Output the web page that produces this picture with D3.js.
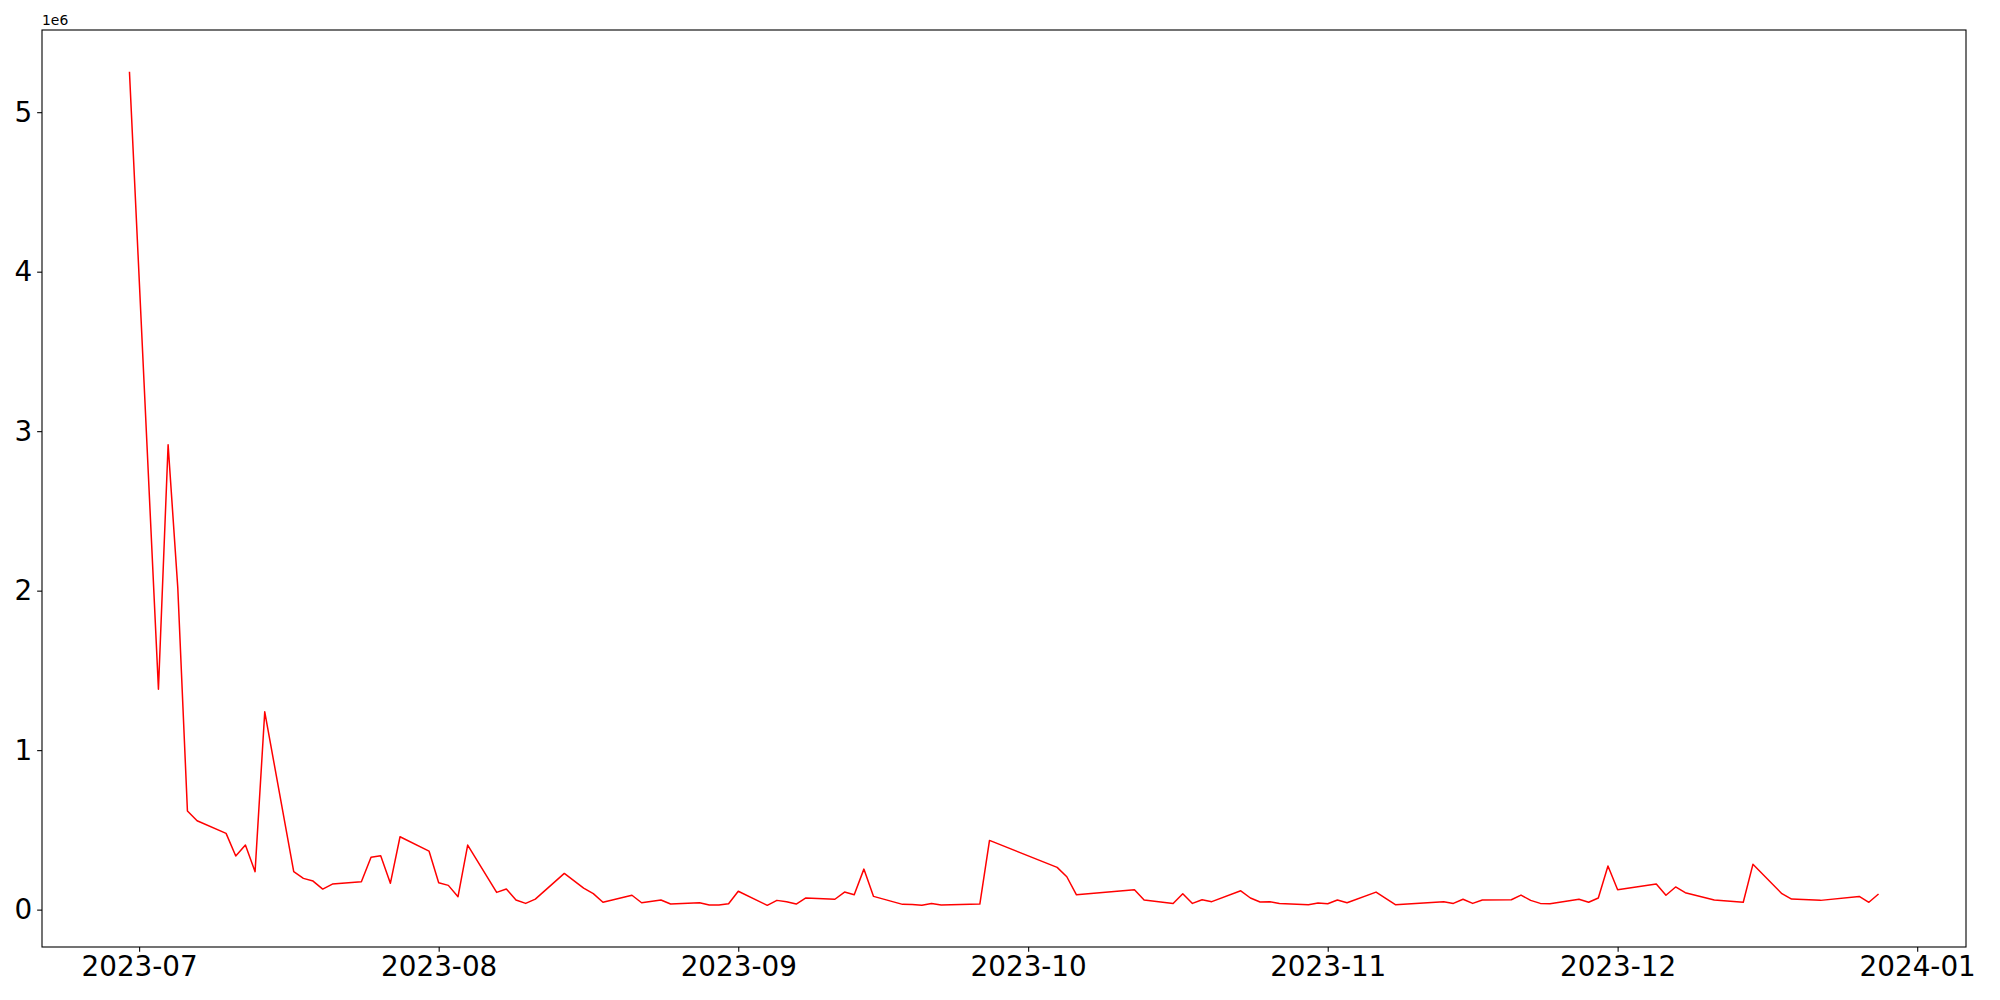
<!DOCTYPE html>
<html>
<head>
<meta charset="utf-8">
<script src="https://cdn.jsdelivr.net/npm/d3@7"></script>
<style>
  body { margin: 0; background: #fff; }
  text { font-family: "DejaVu Sans", sans-serif; }
</style>
</head>
<body>
<script>
// daily values (only the days present in the series)
var dates = [
  "2023-06-30","2023-07-03","2023-07-04","2023-07-05","2023-07-06","2023-07-07","2023-07-10","2023-07-11",
  "2023-07-12","2023-07-13","2023-07-14","2023-07-17","2023-07-18","2023-07-19","2023-07-20","2023-07-21",
  "2023-07-24","2023-07-25","2023-07-26","2023-07-27","2023-07-28","2023-07-31",
  "2023-08-01","2023-08-02","2023-08-03","2023-08-04","2023-08-07","2023-08-08","2023-08-09","2023-08-10",
  "2023-08-11","2023-08-14","2023-08-16","2023-08-17","2023-08-18","2023-08-21","2023-08-22","2023-08-24",
  "2023-08-25","2023-08-28","2023-08-29","2023-08-30","2023-08-31",
  "2023-09-01","2023-09-04","2023-09-05","2023-09-06","2023-09-07","2023-09-08","2023-09-11","2023-09-12",
  "2023-09-13","2023-09-14","2023-09-15","2023-09-18","2023-09-19","2023-09-20","2023-09-21","2023-09-22",
  "2023-09-26","2023-09-27",
  "2023-10-04","2023-10-05","2023-10-06","2023-10-12","2023-10-13","2023-10-16","2023-10-17","2023-10-18",
  "2023-10-19","2023-10-20","2023-10-23","2023-10-24","2023-10-25","2023-10-26","2023-10-27","2023-10-30",
  "2023-10-31",
  "2023-11-01","2023-11-02","2023-11-03","2023-11-06","2023-11-08","2023-11-13","2023-11-14","2023-11-15",
  "2023-11-16","2023-11-17","2023-11-20","2023-11-21","2023-11-22","2023-11-23","2023-11-24","2023-11-27",
  "2023-11-28","2023-11-29","2023-11-30",
  "2023-12-01","2023-12-05","2023-12-06","2023-12-07","2023-12-08","2023-12-11","2023-12-14","2023-12-15",
  "2023-12-18","2023-12-19","2023-12-22","2023-12-26","2023-12-27","2023-12-28"
];
var values = [
  5254000,1382000,2915000,2020000,618000,557000,478000,336000,
  405000,238000,1240000,238000,196000,179000,129000,160000,
  175000,328000,338000,165000,457000,367000,
  169000,152000,81000,405000,108000,129000,60000,39000,
  66000,227000,135000,100000,46000,90000,43000,60000,
  35000,43000,29000,29000,37000,
  115000,27000,58000,50000,35000,73000,65000,110000,
  93000,254000,83000,33000,32000,27000,39000,29000,
  35000,434000,
  265000,206000,93000,125000,60000,39000,100000,39000,
  62000,50000,118000,73000,48000,50000,39000,31000,
  41000,
  37000,60000,43000,110000,31000,50000,39000,65000,
  39000,60000,62000,91000,58000,39000,37000,65000,
  46000,73000,273000,
  125000,160000,90000,142000,106000,60000,46000,284000,
  100000,66000,58000,83000,46000,98000
];
var yTicks = [0, 1e6, 2e6, 3e6, 4e6, 5e6];
var yTickLabels = ["0", "1", "2", "3", "4", "5"];
var offsetLabel = "1e6";

var W = 2000, H = 1000;
var margin = {top: 30, right: 34, bottom: 53, left: 42};
var plotW = W - margin.left - margin.right,
    plotH = H - margin.top - margin.bottom;

var parse = d3.utcParse("%Y-%m-%d");
var data = dates.map(function(d, i) { return {date: parse(d), value: values[i]}; });

// matplotlib style 5% margins
var xExt = d3.extent(data, function(d) { return d.date; });
var xPad = (xExt[1] - xExt[0]) * 0.05;
var yExt = d3.extent(data, function(d) { return d.value; });
var yPad = (yExt[1] - yExt[0]) * 0.05;

var x = d3.scaleUtc()
  .domain([new Date(+xExt[0] - xPad), new Date(+xExt[1] + xPad)])
  .range([0, plotW]);
var y = d3.scaleLinear()
  .domain([yExt[0] - yPad, yExt[1] + yPad])
  .range([plotH, 0]);

var svg = d3.select("body").append("svg")
  .attr("width", W)
  .attr("height", H);
svg.append("rect").attr("width", W).attr("height", H).attr("fill", "#fff");

var g = svg.append("g")
  .attr("transform", "translate(" + margin.left + "," + margin.top + ")");

var tickLen = 4.86, fontPx = 27.8;

// x axis
var xAxis = g.append("g")
  .attr("transform", "translate(0," + plotH + ")")
  .call(d3.axisBottom(x)
    .ticks(d3.utcMonth.every(1))
    .tickFormat(d3.utcFormat("%Y-%m"))
    .tickSize(tickLen)
    .tickPadding(4.86)
    .tickSizeOuter(0));
xAxis.select(".domain").remove();
xAxis.selectAll("line").attr("stroke", "#000").attr("stroke-width", 1.1);
xAxis.selectAll("text")
  .attr("fill", "#000")
  .style("font-size", fontPx + "px")
  .style("font-family", "'DejaVu Sans', sans-serif");

// y axis
var yAxis = g.append("g")
  .call(d3.axisLeft(y)
    .tickValues(yTicks)
    .tickFormat(function(d, i) { return yTickLabels[i]; })
    .tickSize(tickLen)
    .tickPadding(4.86)
    .tickSizeOuter(0));
yAxis.select(".domain").remove();
yAxis.selectAll("line").attr("stroke", "#000").attr("stroke-width", 1.1);
yAxis.selectAll("text")
  .attr("fill", "#000")
  .style("font-size", fontPx + "px")
  .style("font-family", "'DejaVu Sans', sans-serif");

// offset text
g.append("text")
  .attr("x", 0)
  .attr("y", -5)
  .style("font-size", "13.9px")
  .attr("fill", "#000")
  .text(offsetLabel);

// line
var line = d3.line()
  .x(function(d) { return x(d.date); })
  .y(function(d) { return y(d.value); });

g.append("path")
  .datum(data)
  .attr("fill", "none")
  .attr("stroke", "red")
  .attr("stroke-width", 1.5)
  .attr("stroke-linejoin", "round")
  .attr("d", line);

// spines
g.append("rect")
  .attr("width", plotW)
  .attr("height", plotH)
  .attr("fill", "none")
  .attr("stroke", "#000")
  .attr("stroke-width", 1.1);
</script>
</body>
</html>
